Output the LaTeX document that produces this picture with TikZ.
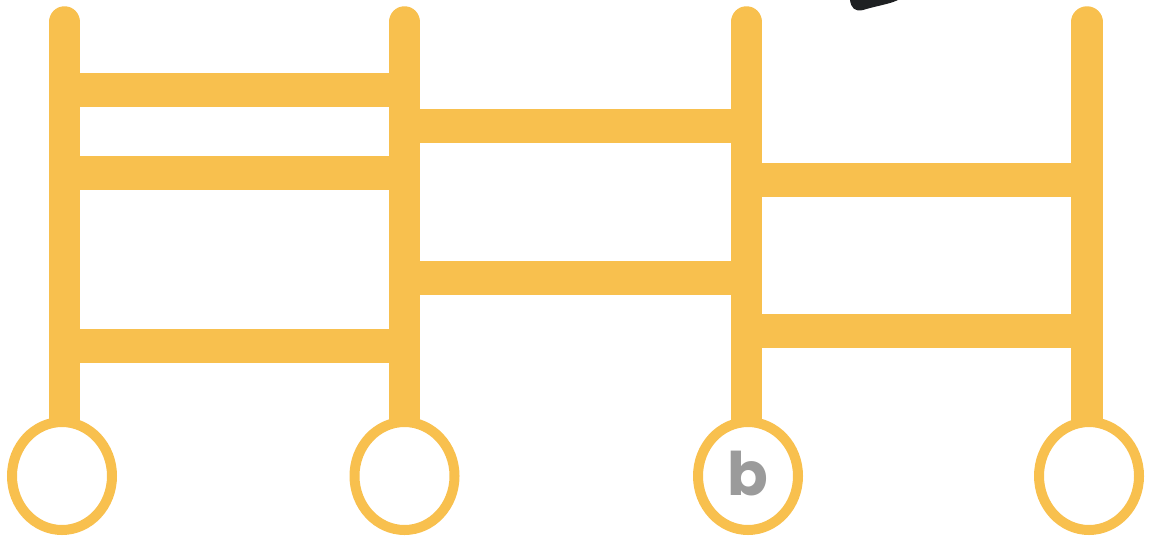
\documentclass[tikz,border=0pt]{standalone}
\usepackage{fontspec}
\newfontfamily\labelfont{Poppins}
\usetikzlibrary{shapes.geometric}
\definecolor{ladder}{RGB}{248,192,78}
\definecolor{lettergrey}{RGB}{155,155,155}
\definecolor{blob}{RGB}{30,32,34}
\tikzset{
  rail/.style={draw=ladder, line width=31.5pt, line cap=round},
  rung/.style={draw=ladder, line width=34pt, line cap=butt},
  wheel/.style={ellipse, draw=ladder, fill=white, line width=10pt, inner sep=0pt,
    minimum width=100pt, minimum height=108pt, text=lettergrey,
    font=\labelfont\bfseries\fontsize{60}{60}\selectfont},
}
\begin{document}
\begin{tikzpicture}[x=1pt,y=-1pt]
\useasboundingbox (0,0) rectangle (1150,536);
% rail tops and bottoms
\coordinate (t1) at (64.5,22);  \coordinate (b1) at (64.5,430);
\coordinate (t2) at (404.5,22); \coordinate (b2) at (404.5,430);
\coordinate (t3) at (746.5,22); \coordinate (b3) at (746.5,430);
\coordinate (t4) at (1087,22);  \coordinate (b4) at (1087,430);
% rails
\draw[rail] (t1) -- (b1);
\draw[rail] (t2) -- (b2);
\draw[rail] (t3) -- (b3);
\draw[rail] (t4) -- (b4);
% rungs, section 1
\draw[rung] (64.5,90) -- (404.5,90);
\draw[rung] (64.5,173) -- (404.5,173);
\draw[rung] (64.5,346) -- (404.5,346);
% rungs, section 2
\draw[rung] (404.5,126) -- (746.5,126);
\draw[rung] (404.5,278) -- (746.5,278);
% rungs, section 3
\draw[rung] (746.5,180) -- (1087,180);
\draw[rung] (746.5,331) -- (1087,331);
% wheels
\node[wheel] (w1) at (62,476) {};
\node[wheel] (w2) at (404.5,476) {};
\node[wheel] (w3) at (748,476) {};
\node[wheel] (w4) at (1089,476) {};
\node[text=lettergrey, font=\labelfont\bfseries\fontsize{60}{60}\selectfont,
  inner sep=0pt, anchor=base] (lb) at (748,495) {b};
% cropped dark blob at top edge
\fill[blob] (850,0) -- (898,0) .. controls (890,4) and (876,6) .. (863,10)
  .. controls (855,12) and (851,8) .. (850,0) -- cycle;
\end{tikzpicture}
\end{document}
